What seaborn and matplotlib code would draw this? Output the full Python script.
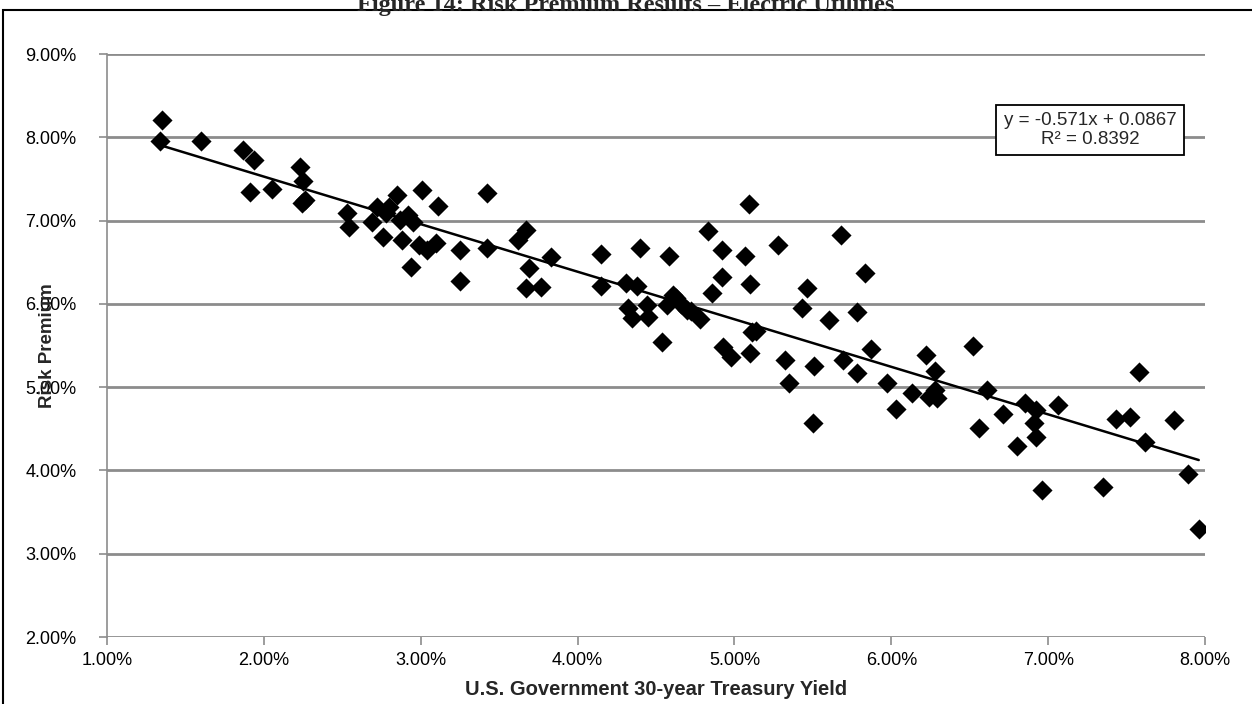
import numpy as np
import pandas as pd
import matplotlib
matplotlib.use("Agg")
import matplotlib.pyplot as plt
import seaborn as sns
from matplotlib.ticker import FuncFormatter, MultipleLocator
from matplotlib.patches import Rectangle

# ---- data (percent) ----
treasury_yield = [
    1.35, 1.34, 1.60, 1.87, 1.94, 1.91, 2.05, 2.23, 2.25, 2.24, 2.26, 2.53, 2.54,
    2.72, 2.69, 2.76, 2.85, 2.80, 2.78, 2.87, 2.88, 2.94, 2.92, 2.95, 2.99, 3.04,
    3.10, 3.01, 3.11, 3.25, 3.25, 3.42, 3.42, 3.67, 3.62, 3.69, 3.67, 3.77, 3.83,
    4.15, 4.15, 4.40, 4.31, 4.38, 4.32, 4.35, 4.44, 4.45, 4.58, 4.54, 4.57, 4.61,
    4.63, 4.66, 4.70, 4.72, 4.78, 4.83, 4.92, 4.92, 4.86, 5.09, 5.07, 5.10, 5.11,
    5.14, 4.93, 4.98, 5.10, 5.28, 5.32, 5.35, 5.68, 5.83, 5.46, 5.43, 5.60, 5.78,
    5.87, 5.69, 5.78, 5.51, 5.50, 5.97, 6.03, 6.13, 6.22, 6.28, 6.24, 6.29, 6.28,
    6.52, 6.61, 6.56, 6.71, 6.80, 6.85, 6.92, 6.91, 6.92, 7.06, 6.96, 7.35, 7.43,
    7.52, 7.58, 7.62, 7.80, 7.89, 7.96,
]
risk_premium = [
    8.21, 7.95, 7.95, 7.85, 7.73, 7.34, 7.38, 7.64, 7.47, 7.21, 7.25, 7.09, 6.92,
    7.16, 6.98, 6.80, 7.31, 7.16, 7.09, 7.01, 6.77, 6.44, 7.07, 6.98, 6.71, 6.65,
    6.73, 7.37, 7.17, 6.65, 6.27, 7.33, 6.67, 6.89, 6.77, 6.43, 6.19, 6.20, 6.56,
    6.60, 6.21, 6.67, 6.25, 6.21, 5.95, 5.83, 5.99, 5.84, 6.57, 5.54, 5.99, 6.11,
    6.07, 6.00, 5.93, 5.92, 5.82, 6.87, 6.65, 6.32, 6.13, 7.20, 6.57, 6.24, 5.66,
    5.67, 5.48, 5.36, 5.41, 6.71, 5.33, 5.05, 6.83, 6.37, 6.19, 5.95, 5.81, 5.90,
    5.46, 5.32, 5.17, 5.25, 4.57, 5.05, 4.74, 4.93, 5.38, 5.19, 4.88, 4.87, 4.96,
    5.49, 4.96, 4.51, 4.68, 4.29, 4.81, 4.73, 4.57, 4.40, 4.79, 3.76, 3.80, 4.62,
    4.64, 5.18, 4.34, 4.60, 3.96, 3.30,
]
trend_slope = -0.571
trend_intercept = 0.0867
r_squared = 0.8392
title = "Figure 14: Risk Premium Results \u2013 Electric Utilities"
x_label = "U.S. Government 30-year Treasury Yield"
y_label = "Risk Premium"

df = pd.DataFrame({"x": treasury_yield, "y": risk_premium})

sns.set_style("white")
plt.rcParams["font.family"] = ["Liberation Sans", "DejaVu Sans"]

fig = plt.figure(figsize=(12.52, 7.04), dpi=100)
ax = fig.add_axes([107/1252, 1-637/704, (1205-107)/1252, (637-54)/704])

sns.scatterplot(data=df, x="x", y="y", marker="D", color="black", s=105,
                linewidth=0, ax=ax, zorder=3)

# trend line from stated equation over data range
xs = np.array([min(treasury_yield), max(treasury_yield)])
ys = (trend_slope * xs / 100 + trend_intercept) * 100
ax.plot(xs, ys, color="black", lw=1.8, zorder=4)

ax.set_xlim(1, 8)
ax.set_ylim(2, 9)
ax.xaxis.set_major_locator(MultipleLocator(1))
ax.yaxis.set_major_locator(MultipleLocator(1))
fmt = FuncFormatter(lambda v, p: f"{v:.2f}%")
ax.xaxis.set_major_formatter(fmt)
ax.yaxis.set_major_formatter(fmt)

grid_c = "#8c8c8c"
ax.grid(axis="y", color=grid_c, lw=2)
ax.grid(axis="x", visible=False)
for s in ["top", "right", "bottom"]:
    ax.spines[s].set_visible(False)
ax.spines["left"].set_color(grid_c)
ax.spines["left"].set_linewidth(1.2)
ax.tick_params(axis="both", which="major", length=6, width=1.2, color=grid_c,
               labelsize=13, labelcolor="black", direction="out")
ax.tick_params(axis="x", bottom=True, pad=5)
ax.tick_params(axis="y", left=True, pad=16)

ax.set_xlabel(x_label, fontsize=14.5, fontweight="bold", labelpad=8)
ax.set_ylabel(y_label, fontsize=13.5, fontweight="bold")
ax.yaxis.set_label_coords(-0.046, 0.5)

ax.text(1090/1252, 1-130/704,
        f"y = {trend_slope:.3f}x + {trend_intercept:.4f}\nR\u00b2 = {r_squared:.4f}",
        transform=fig.transFigure, ha="center", va="center", fontsize=13.5,
        linespacing=1.15, zorder=6,
        bbox=dict(boxstyle="square,pad=0.4", fc="white", ec="black", lw=1.3))

# outer chart border
fig.patches.append(Rectangle((3/1252, -0.05), 1.2, 1.05 - 10/704,
                             transform=fig.transFigure, fill=False,
                             ec="black", lw=1.5))

fig.text(0.5, 1-6/704, title, ha="center", va="center", fontsize=17.5,
         fontweight="bold", family=["Liberation Serif", "DejaVu Serif"])

fig.savefig("out.png", dpi=100)
